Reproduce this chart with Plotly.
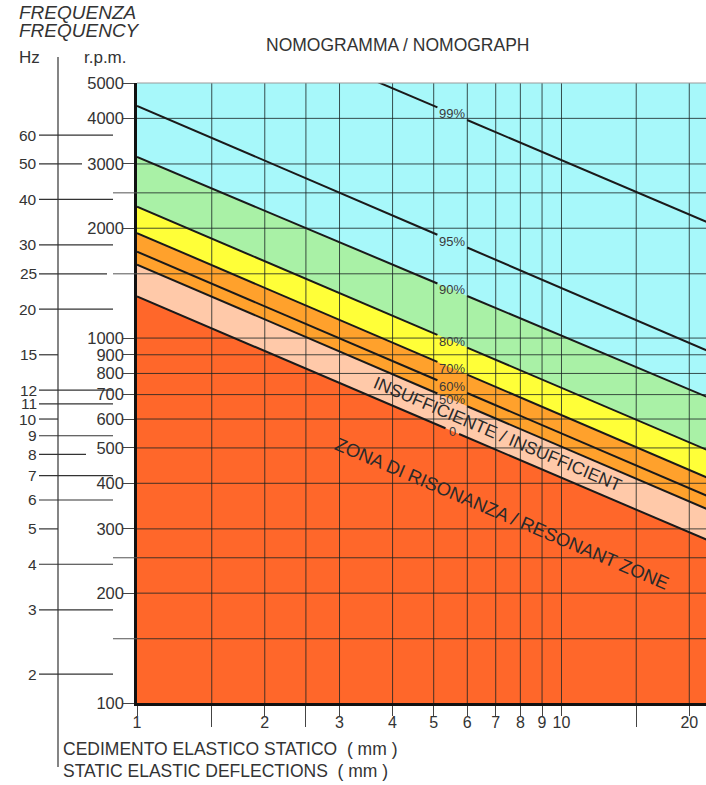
import math
import plotly.graph_objects as go

# ---------------- DATA ----------------
deflection_ends_mm = [1, 22]
efficiency_labels = ["99%", "95%", "90%", "80%", "70%", "60%", "50%", "0"]
rpm_at_1mm = [9600, 4330, 3135, 2290, 1940, 1725, 1590, 1300]
rpm_at_22mm = [2080, 925, 690, 494, 415, 370, 340, 280]
label_deflection_mm = 5.53

x_tick_vals = [1, 2, 3, 4, 5, 6, 7, 8, 9, 10, 20]
x_tick_text = ["1", "2", "3", "4", "5", "6", "7", "8", "9", "10", "20"]
x_extra_ticks = [1.5, 2.5, 15]
rpm_tick_vals = [100, 200, 300, 400, 500, 600, 700, 800, 900, 1000, 2000, 3000, 4000, 5000]
rpm_tick_text = ["100", "200", "300", "400", "500", "600", "700", "800", "900", "1000",
                 "2000", "3000", "4000", "5000"]
rpm_extra_grid = [150, 250, 1500, 2500]
hz_tick_vals = [60, 50, 40, 30, 25, 20, 15, 12, 11, 10, 9, 8, 7, 6, 5, 4, 3, 2]
hz_tick_text = ["60", "50", "40", "30", "25", "20", "15", "12", "11", "10", "9", "8", "7",
                "6", "5", "4", "3", "2"]
rpm_per_hz = 60

# zones: (index of upper bounding line, colour)
zone_fill = [(2, "#A9F1A6"), (3, "#FFFF38"), (4, "#FFA12C"), (6, "#FFC9A9"), (7, "#FF672A")]
cyan = "#A7F8FA"

# ---------------- LAYOUT GEOMETRY ----------------
W, H = 706, 785
PL, PR, PT, PB = 137, 706, 83, 703
X_MAX = 21.9
Y_MIN, Y_MAX = 100, 5000
FONT = "Liberation Sans, Arial, sans-serif"


def px_x(px):
    return px / W


def px_y(py):
    return (H - py) / H


def rpm_to_paper(rpm):
    f = (math.log10(rpm) - math.log10(Y_MIN)) / (math.log10(Y_MAX) - math.log10(Y_MIN))
    return px_y(PB - f * (PB - PT))


def line_rpm(i, d):
    la, lb = math.log10(rpm_at_1mm[i]), math.log10(rpm_at_22mm[i])
    t = (math.log10(d) - math.log10(deflection_ends_mm[0])) / (
        math.log10(deflection_ends_mm[1]) - math.log10(deflection_ends_mm[0]))
    return 10 ** (la + t * (lb - la))


def note(px, py, text, size, xanchor="center", angle=0, color="#333"):
    fig.add_annotation(x=px_x(px), y=px_y(py), xref="paper", yref="paper", text=text,
                       showarrow=False, xanchor=xanchor, yanchor="middle",
                       textangle=angle, font=dict(family=FONT, size=size, color=color))


fig = go.Figure()

# colour zones
for idx, col in zone_fill:
    fig.add_trace(go.Scatter(
        x=[deflection_ends_mm[0], deflection_ends_mm[1], deflection_ends_mm[1], deflection_ends_mm[0]],
        y=[rpm_at_1mm[idx], rpm_at_22mm[idx], Y_MIN, Y_MIN],
        fill="toself", fillcolor=col, mode="none", hoverinfo="skip", showlegend=False))

# grid lines (drawn above the fills)
gx, gy = [], []
for v in x_extra_ticks + x_tick_vals[1:]:
    gx += [v, v, None]
    gy += [Y_MIN, Y_MAX, None]
for v in rpm_tick_vals[1:-1] + rpm_extra_grid:
    gx += [deflection_ends_mm[0], X_MAX, None]
    gy += [v, v, None]
fig.add_trace(go.Scatter(x=gx, y=gy, mode="lines",
                         line=dict(color="rgba(25,35,35,0.8)", width=1),
                         hoverinfo="skip", showlegend=False))

# efficiency lines with a gap at their label
for i, lab in enumerate(efficiency_labels):
    half = 0.035 if len(lab) > 1 else 0.016
    d_a = label_deflection_mm * 10 ** (-half)
    d_b = label_deflection_mm * 10 ** (half)
    xs = [deflection_ends_mm[0], d_a, None, d_b, deflection_ends_mm[1]]
    ys = [rpm_at_1mm[i], line_rpm(i, d_a), None, line_rpm(i, d_b), rpm_at_22mm[i]]
    fig.add_trace(go.Scatter(x=xs, y=ys, mode="lines",
                             line=dict(color="#1a1a1a", width=2),
                             hoverinfo="skip", showlegend=False, connectgaps=False))
    fig.add_annotation(x=math.log10(label_deflection_mm),
                       y=math.log10(line_rpm(i, label_deflection_mm)),
                       xref="x", yref="y", text=lab, showarrow=False,
                       xanchor="center", yanchor="middle",
                       font=dict(family=FONT, size=13, color="#3a3a3a"))

shapes = []
# top frame line
shapes.append(dict(type="line", xref="paper", yref="paper", x0=px_x(PL), x1=1,
                   y0=px_y(PT), y1=px_y(PT), line=dict(color="#9a9a9a", width=1), layer="above"))
# extended grid lines left of plot
for v in rpm_extra_grid:
    shapes.append(dict(type="line", xref="paper", yref="paper", x0=px_x(113), x1=px_x(PL),
                       y0=rpm_to_paper(v), y1=rpm_to_paper(v),
                       line=dict(color="#555", width=1)))
# Hz axis line
shapes.append(dict(type="line", xref="paper", yref="paper", x0=px_x(58), x1=px_x(58),
                   y0=px_y(57), y1=px_y(767), line=dict(color="#333", width=1.2)))
# Hz tick lines
hz_right = {15: 58, 10: 58, 5: 58, 8: 86, 25: 107, 50: 82}
for v, t in zip(hz_tick_vals, hz_tick_text):
    yp = rpm_to_paper(v * rpm_per_hz)
    shapes.append(dict(type="line", xref="paper", yref="paper", x0=px_x(39),
                       x1=px_x(hz_right.get(v, 113)), y0=yp, y1=yp,
                       line=dict(color="#333", width=1.2)))
    fig.add_annotation(x=px_x(38), y=yp, xref="paper", yref="paper", text=t,
                       showarrow=False, xanchor="right", yanchor="middle",
                       borderpad=0,
                       font=dict(family=FONT, size=15.5, color="#333"))

fig.update_layout(shapes=shapes)

# zone captions
note(498, 434, "INSUFFICIENTE / INSUFFICIENT", 17.5, angle=23, color="#2a2a2a")
note(502, 513, "ZONA DI RISONANZA / RESONANT ZONE", 18.5, angle=23, color="#2a2a2a")

# titles and headers
note(397, 45, "NOMOGRAMMA / NOMOGRAPH", 17.5)
note(17, 13, "<i>FREQUENZA</i>", 19, xanchor="left")
note(17, 31, "<i>FREQUENCY</i>", 19, xanchor="left")
note(17, 58, "Hz", 17, xanchor="left")
note(82, 58, "r.p.m.", 17, xanchor="left")
note(61, 749, "CEDIMENTO ELASTICO STATICO  ( mm )", 17.5, xanchor="left")
note(61, 771, "STATIC ELASTIC DEFLECTIONS  ( mm )", 17.5, xanchor="left")

fig.update_layout(
    width=W, height=H,
    margin=dict(l=0, r=0, t=0, b=0, pad=0, autoexpand=False),
    paper_bgcolor="white", plot_bgcolor=cyan,
    showlegend=False,
    xaxis=dict(type="log", domain=[px_x(PL), 1], range=[0, math.log10(X_MAX)],
               automargin=False,
               tickmode="array", tickvals=x_tick_vals, ticktext=x_tick_text,
               ticks="outside", ticklen=10, tickwidth=1, tickcolor="#444",
               ticklabelstandoff=-7,
               showgrid=False, zeroline=False, showline=True, linewidth=2.5,
               linecolor="#111", layer="above traces",
               tickfont=dict(family=FONT, size=16, color="#333"),
               minor=dict(tickmode="array", tickvals=x_extra_ticks, ticks="outside",
                          ticklen=21, tickwidth=1, tickcolor="#444", showgrid=False)),
    yaxis=dict(type="log", domain=[px_y(PB), px_y(PT)],
               range=[math.log10(Y_MIN), math.log10(Y_MAX)],
               automargin=False,
               tickmode="array", tickvals=rpm_tick_vals, ticktext=rpm_tick_text,
               ticks="outside", ticklen=11, tickwidth=1, tickcolor="#444",
               ticklabelstandoff=-4,
               showgrid=False, zeroline=False, showline=True, linewidth=2.5,
               linecolor="#111", layer="above traces",
               tickfont=dict(family=FONT, size=16.5, color="#333")),
)

fig.write_html(
    "out.html",
    config={"displayModeBar": False},
    post_script="document.body.style.margin='0';document.body.style.overflow='hidden';",
)
